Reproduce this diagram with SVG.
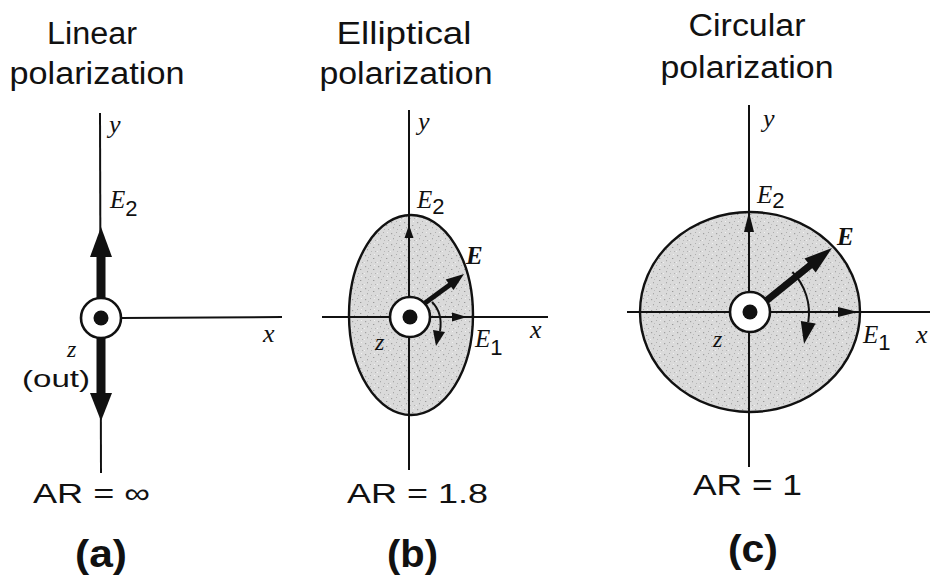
<svg xmlns="http://www.w3.org/2000/svg" width="930" height="578" viewBox="0 0 930 578">
<defs>
<pattern id="stip" width="13" height="11" patternUnits="userSpaceOnUse">
<rect width="13" height="11" fill="#dadada"/>
<rect x="1" y="2" width="1.2" height="1.2" fill="#a0a0a0"/>
<rect x="6" y="1" width="1" height="1" fill="#adadad"/>
<rect x="9" y="5" width="1.3" height="1" fill="#999"/>
<rect x="3" y="7" width="1" height="1.3" fill="#a8a8a8"/>
<rect x="11" y="9" width="1" height="1" fill="#b2b2b2"/>
<rect x="7" y="9" width="1" height="1" fill="#b8b8b8"/>
<rect x="4" y="4" width="1" height="1" fill="#bcbcbc"/>
<rect x="10" y="1" width="1" height="1" fill="#f0f0f0"/>
<rect x="0" y="9" width="1" height="1" fill="#efefef"/>
</pattern>
<style>
.t{font-family:"Liberation Sans",Arial,sans-serif;fill:#111;}
.b{font-family:"Liberation Sans",Arial,sans-serif;font-weight:bold;fill:#111;}
.i{font-family:"Liberation Serif","Times New Roman",serif;font-style:italic;fill:#111;}
.bi{font-family:"Liberation Serif","Times New Roman",serif;font-style:italic;font-weight:bold;fill:#111;}
.s{font-family:"Liberation Sans",Arial,sans-serif;fill:#111;}
.ax{stroke:#111;stroke-width:2;fill:none;}
.ol{stroke:#111;stroke-width:2.4;fill:url(#stip);}
.hub{stroke:#111;stroke-width:2.6;fill:#fff;}
.dot{fill:#111;}
.ah{fill:#111;}
.arc{stroke:#111;stroke-width:2;fill:none;}
</style>
</defs>
<rect width="930" height="578" fill="#fff"/>

<g id="panel-a">
<text class="t" x="92" y="44" font-size="31" text-anchor="middle" textLength="90" lengthAdjust="spacingAndGlyphs">Linear</text>
<text class="t" x="97" y="84" font-size="31" text-anchor="middle" textLength="175" lengthAdjust="spacingAndGlyphs">polarization</text>
<g id="connectors-a">
<line class="ax" x1="100" y1="113" x2="101" y2="473"/>
<line class="ax" x1="120" y1="318" x2="282" y2="317"/>
<rect x="96.5" y="252" width="9" height="48" fill="#111"/>
<polygon class="ah" points="90,257 112,257 101,227"/>
<rect x="96.5" y="336" width="9" height="60" fill="#111"/>
<polygon class="ah" points="90,393 112,393 101,421"/>
</g>
<g id="hub-a">
<circle class="hub" cx="101" cy="318" r="20"/>
<circle class="dot" cx="101" cy="318" r="7.5"/>
</g>
<text class="i" x="109" y="133" font-size="26">y</text>
<text x="110" y="208"><tspan class="i" font-size="25">E</tspan><tspan class="s" font-size="22" dy="8">2</tspan></text>
<text class="i" x="263" y="342" font-size="26">x</text>
<text class="i" x="67" y="357" font-size="24">z</text>
<text class="t" x="22" y="387" font-size="24" textLength="68" lengthAdjust="spacingAndGlyphs">(out)</text>
<text class="t" x="33" y="503" font-size="28" textLength="117" lengthAdjust="spacingAndGlyphs">AR = ∞</text>
<text class="b" x="75" y="567" font-size="39" textLength="52" lengthAdjust="spacingAndGlyphs">(a)</text>
</g>

<g id="panel-b">
<text class="t" x="404" y="44" font-size="31" text-anchor="middle" textLength="135" lengthAdjust="spacingAndGlyphs">Elliptical</text>
<text class="t" x="406" y="84" font-size="31" text-anchor="middle" textLength="173" lengthAdjust="spacingAndGlyphs">polarization</text>
<ellipse id="ellipse-b" class="ol" cx="411" cy="315" rx="62" ry="100"/>
<g id="connectors-b">
<line class="ax" x1="409" y1="110" x2="409" y2="470"/>
<line class="ax" x1="322" y1="317" x2="548" y2="317"/>
<polygon class="ah" points="404.5,238 413.5,238 409,225"/>
<polygon class="ah" points="452,312.5 452,321.5 467,317"/>
<line stroke="#111" stroke-width="5" x1="425" y1="303" x2="451" y2="284"/>
<polygon class="ah" points="453.5,290 445.7,279.6 464,274"/>
<path class="arc" d="M432,302 Q443,313 440,331"/>
<polygon class="ah" points="445,332 433,330 436,346"/>
</g>
<g id="hub-b">
<circle class="hub" cx="410" cy="317" r="20"/>
<circle class="dot" cx="410" cy="317" r="7.5"/>
</g>
<text class="i" x="418" y="130" font-size="26">y</text>
<text x="417" y="208"><tspan class="i" font-size="25">E</tspan><tspan class="s" font-size="22" dy="6">2</tspan></text>
<text class="bi" x="466" y="264" font-size="25">E</text>
<text class="i" x="530" y="338" font-size="26">x</text>
<text class="i" x="375" y="350" font-size="24">z</text>
<text x="475" y="347"><tspan class="i" font-size="25">E</tspan><tspan class="s" font-size="22" dy="8">1</tspan></text>
<text class="t" x="347" y="503" font-size="28" textLength="141" lengthAdjust="spacingAndGlyphs">AR = 1.8</text>
<text class="b" x="387" y="567" font-size="39" textLength="51" lengthAdjust="spacingAndGlyphs">(b)</text>
</g>

<g id="panel-c">
<text class="t" x="747" y="36" font-size="31" text-anchor="middle" textLength="117" lengthAdjust="spacingAndGlyphs">Circular</text>
<text class="t" x="747" y="78" font-size="31" text-anchor="middle" textLength="173" lengthAdjust="spacingAndGlyphs">polarization</text>
<ellipse id="circle-c" class="ol" cx="750" cy="312" rx="110" ry="100"/>
<g id="connectors-c">
<line class="ax" x1="749" y1="105" x2="749" y2="467"/>
<line class="ax" x1="627" y1="312" x2="930" y2="312"/>
<polygon class="ah" points="744,232 754,232 749,212"/>
<polygon class="ah" points="838,307 838,317 858,312"/>
<line stroke="#111" stroke-width="7" x1="766" y1="301" x2="813" y2="263"/>
<polygon class="ah" points="815.7,272.5 804.5,258.5 832,248"/>
<path class="arc" d="M792.4,272 A59,59 0 0 1 808.3,322.2"/>
<polygon class="ah" points="815.6,323.4 800.8,321 804,344"/>
</g>
<g id="hub-c">
<circle class="hub" cx="750" cy="312" r="20"/>
<circle class="dot" cx="750" cy="312" r="7.5"/>
</g>
<text class="i" x="763" y="127" font-size="26">y</text>
<text x="757" y="203"><tspan class="i" font-size="25">E</tspan><tspan class="s" font-size="22" dy="5">2</tspan></text>
<text class="bi" x="837" y="245" font-size="25">E</text>
<text class="i" x="916" y="343" font-size="26">x</text>
<text class="i" x="713" y="347" font-size="24">z</text>
<text x="863" y="343"><tspan class="i" font-size="25">E</tspan><tspan class="s" font-size="22" dy="7">1</tspan></text>
<text class="t" x="693" y="495" font-size="29" textLength="109" lengthAdjust="spacingAndGlyphs">AR = 1</text>
<text class="b" x="728" y="562" font-size="39" textLength="50" lengthAdjust="spacingAndGlyphs">(c)</text>
</g>
</svg>
